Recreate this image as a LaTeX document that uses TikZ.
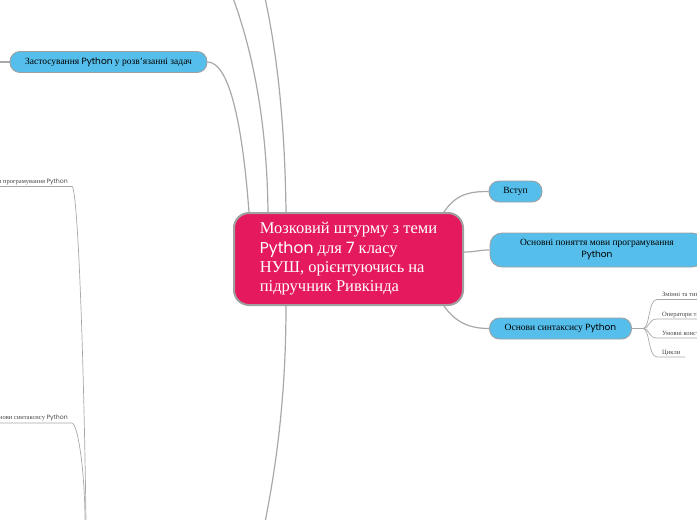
\documentclass[tikz,border=0pt]{standalone}
\usepackage{fontspec}
\setmainfont{Liberation Serif}
\newfontfamily\pyf[Scale=0.95]{Poppins}
\definecolor{pinkc}{RGB}{229,26,94}
\definecolor{nodeblue}{RGB}{85,190,235}
\definecolor{bordergray}{RGB}{160,160,160}
\definecolor{linegray}{RGB}{168,168,168}
\definecolor{subtext}{RGB}{70,70,70}
\tikzset{
  centerbox/.style={draw=bordergray, line width=2pt, fill=pinkc, rounded corners=15pt,
    text=white, align=left, inner sep=0pt, minimum width=229pt, minimum height=92pt,
    font=\fontsize{16.5}{19.3}\selectfont},
  bluebox/.style={draw=bordergray, line width=0.9pt, fill=nodeblue, rounded corners=10pt,
    inner sep=0pt, align=center, font=\fontsize{9.5}{12}\selectfont},
  conn/.style={draw=linegray, line width=1.2pt},
  subconn/.style={draw=linegray, line width=0.7pt},
  subtxt/.style={text=subtext, inner sep=0pt, font=\fontsize{6.5}{8}\selectfont}
}
\begin{document}
\begin{tikzpicture}[x=1pt,y=-1pt]
\path[use as bounding box] (0,0) rectangle (697,520);
\clip (0,0) rectangle (697,520);

% central node
\node[centerbox] (c) at (348.5,259) {Мозковий штурму з теми\\{\pyf Python} для {\pyf 7} класу\\НУШ, орієнтуючись на\\підручник Ривкінда};

% blue nodes
\node[bluebox, minimum width=197pt, minimum height=21pt] (z) at (108.5,62) {Застосування {\pyf Python} у розв'язанні задач};
\node[bluebox, minimum width=53pt, minimum height=21pt] (v) at (515.5,191.5) {Вступ};
\node[bluebox, minimum width=214pt, minimum height=34pt, rounded corners=12pt] (o) at (597,250) {Основні поняття мови програмування\\{\pyf Python}};
\node[bluebox, minimum width=142pt, minimum height=21pt] (s) at (560.5,328.5) {Основи синтаксису {\pyf Python}};

% free ends
\coordinate (zl) at (-2,62);
\coordinate (topA) at (233,-2);
\coordinate (topB) at (265,-2);
\coordinate (bot) at (265,522);

% connectors from center
\draw[conn] (zl) -- (z.west);
\draw[conn] (z.east) .. controls +(21,0) and +(-7,-93) .. ([xshift=16pt]c.north west);
\draw[conn] (topA) .. controls +(22,60) and +(-1,-83) .. ([xshift=35pt]c.north west);
\draw[conn] (topB) .. controls +(13,60) and +(-1,-83) .. ([xshift=53pt]c.north west);
\draw[conn] ([xshift=53pt]c.south west) .. controls +(0,95) and +(10,-50) .. (bot);
\draw[conn] ([xshift=-20pt]c.north east) .. controls +(12,-18) and +(-19,0) .. (v.west);
\draw[conn] ([yshift=7pt]c.east) .. controls +(12,0) and +(-12,0) .. (o.west);
\draw[conn] ([xshift=-20pt]c.south east) .. controls +(12,17) and +(-19,0) .. (s.west);

% sub-branch of "Основи синтаксису"
\coordinate (j) at (643,328.5);
\draw[subconn] (s.east) -- (j);
\node[subtxt, anchor=base west] (t1) at (662,296.5) {Змінні та типи даних};
\node[subtxt, anchor=base west] (t2) at (662,316) {Оператори та вирази};
\node[subtxt, anchor=base west] (t3) at (662,335) {Умовні конструкції};
\node[subtxt, anchor=base west] (t4) at (662,354) {Цикли};
\coordinate (u1a) at (657,299.5); \coordinate (u1b) at (700,299.5);
\coordinate (u2a) at (657,319); \coordinate (u2b) at (700,319);
\coordinate (u3a) at (657,338); \coordinate (u3b) at (700,338);
\coordinate (u4a) at (657,357); \coordinate (u4b) at (685,357);
\draw[subconn] (j) .. controls +(7,0) and +(-9,0) .. (u1a) -- (u1b);
\draw[subconn] (j) .. controls +(7,0) and +(-9,0) .. (u2a) -- (u2b);
\draw[subconn] (j) .. controls +(7,0) and +(-9,0) .. (u3a) -- (u3b);
\draw[subconn] (j) .. controls +(7,0) and +(-9,0) .. (u4a) -- (u4b);

% left sub-branches (cut off)
\node[subtxt, anchor=base east] (l1) at (68,183) {Основні поняття мови програмування {\pyf Python}};
\node[subtxt, anchor=base east] (l2) at (68,419) {Основи синтаксису {\pyf Python}};
\coordinate (l1a) at (-2,186.5); \coordinate (l1b) at (72,186.5); \coordinate (l1c) at (86,522);
\coordinate (l2a) at (-2,423); \coordinate (l2b) at (72,423); \coordinate (l2c) at (85,522);
\draw[subconn] (l1a) -- (l1b) .. controls +(6,2) and +(-2,-160) .. (l1c);
\draw[subconn] (l2a) -- (l2b) .. controls +(6,1) and +(0,-50) .. (l2c);
\end{tikzpicture}
\end{document}
